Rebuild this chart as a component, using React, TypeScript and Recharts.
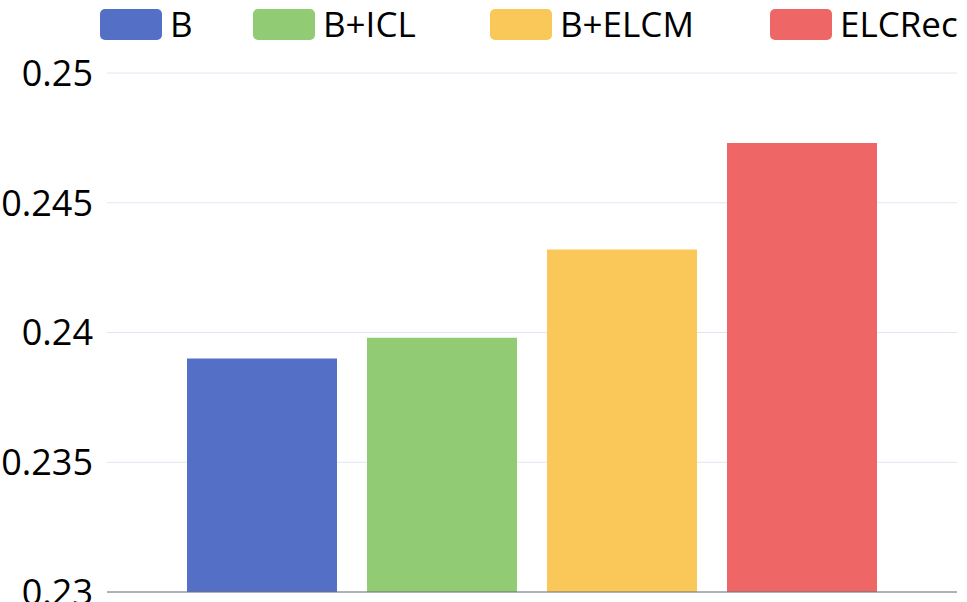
import React from "react";
import { BarChart, Bar, XAxis, YAxis, CartesianGrid } from "recharts";

const seriesNames = ["B", "B+ICL", "B+ELCM", "ELCRec"];
const seriesValues = [0.239, 0.2398, 0.2432, 0.2473];
const seriesColors = ["#5470C6", "#91CC75", "#FAC858", "#EE6666"];
const yTicks = [0.23, 0.235, 0.24, 0.245, 0.25];

const FONT = '"Open Sans", "Noto Sans", sans-serif';
const legendItemWidths = [153, 237, 280, 197];

const row: Record<string, number | string> = { name: "" };
seriesNames.forEach((n, i) => {
  row[n] = seriesValues[i];
});
const data = [row];

// legend drawn above the chart, as in the original
function LegendBox() {
  return (
    <div
      style={{
        position: "absolute",
        left: 100,
        top: 4,
        display: "flex",
        alignItems: "center",
        fontFamily: FONT,
        fontSize: 35,
        color: "#000",
        height: 40,
      }}
    >
      {seriesNames.map((n, i) => (
        <div
          key={n}
          style={{ display: "flex", alignItems: "center", width: legendItemWidths[i] }}
        >
          <div
            style={{
              width: 62,
              height: 31,
              borderRadius: 5,
              background: seriesColors[i],
              marginRight: 8,
              flexShrink: 0,
            }}
          />
          <span style={{ lineHeight: "40px", whiteSpace: "nowrap" }}>{n}</span>
        </div>
      ))}
    </div>
  );
}

export default function App() {
  return (
    <div style={{ position: "absolute", left: 0, top: 0, width: 967, height: 602, background: "#fff", overflow: "hidden" }}>
      <BarChart
        width={967}
        height={602}
        data={data}
        margin={{ top: 73, right: 10, bottom: 9, left: 0 }}
        barGap={30}
        barSize={150}
      >
        <CartesianGrid vertical={false} stroke="#E0E6F1" />
        <XAxis
          dataKey="name"
          axisLine={{ stroke: "#6E7079" }}
          tickLine={false}
          tick={false}
          height={1}
        />
        <YAxis
          width={107}
          domain={[0.23, 0.25]}
          ticks={yTicks}
          interval={0}
          allowDataOverflow
          axisLine={false}
          tickLine={false}
          tickSize={0}
          tickMargin={14}
          tick={{ fill: "#000", fontSize: 36, fontFamily: FONT }}
          tickFormatter={(v: number) => String(v)}
        />
        {seriesNames.map((n, i) => (
          <Bar key={n} dataKey={n} fill={seriesColors[i]} isAnimationActive={false} />
        ))}
      </BarChart>
      <LegendBox />
    </div>
  );
}
